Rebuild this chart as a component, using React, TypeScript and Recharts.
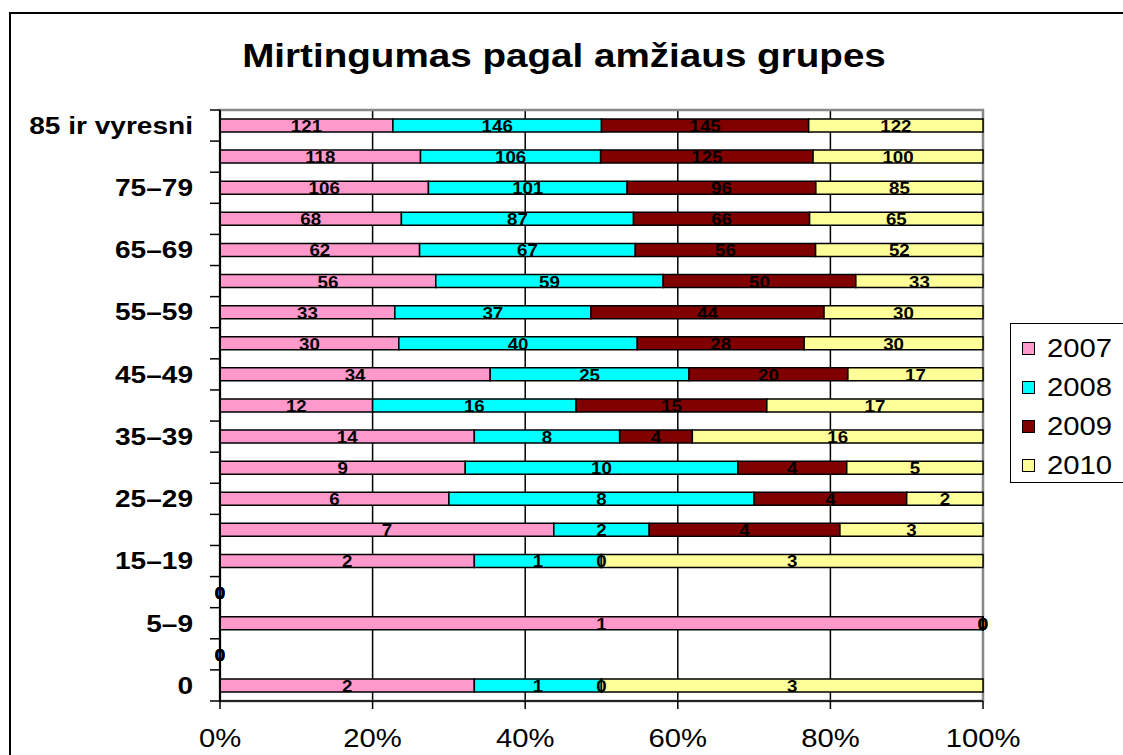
import { Bar, BarChart, CartesianGrid, LabelList, ReferenceArea, XAxis, YAxis } from "recharts";

const CATS = [
  "85 ir vyresni", "80–84", "75–79", "70–74", "65–69", "60–64", "55–59", "50–54", "45–49", "40–44",
  "35–39", "30–34", "25–29", "20–24", "15–19", "10–14", "5–9", "1–4", "0",
];
const Y2007 = [121, 118, 106, 68, 62, 56, 33, 30, 34, 12, 14, 9, 6, 7, 2, 0, 1, 0, 2];
const Y2008 = [146, 106, 101, 87, 67, 59, 37, 40, 25, 16, 8, 10, 8, 2, 1, 0, 0, 0, 1];
const Y2009 = [145, 125, 96, 66, 56, 50, 44, 28, 20, 15, 4, 4, 4, 4, 0, 0, 0, 0, 0];
const Y2010 = [122, 100, 85, 65, 52, 33, 30, 30, 17, 17, 16, 5, 2, 3, 3, 0, 0, 0, 3];
const X_TICKS = [0, 0.2, 0.4, 0.6, 0.8, 1];

const SERIES = [
  { key: "y2007", name: "2007", color: "#ff99cc" },
  { key: "y2008", name: "2008", color: "#00ffff" },
  { key: "y2009", name: "2009", color: "#800000" },
  { key: "y2010", name: "2010", color: "#ffff99" },
];

const data = CATS.map((cat, i) => ({
  cat,
  y2007: Y2007[i],
  y2008: Y2008[i],
  y2009: Y2009[i],
  y2010: Y2010[i],
}));

const W = 1123;
const H = 755;
const M = { top: 110, right: 140, bottom: 14, left: 0 };
const X_AXIS_H = 40;
const PLOT_H = H - M.top - M.bottom - X_AXIS_H;
const BAND = PLOT_H / CATS.length;
const FONT = "'Liberation Sans', Arial, sans-serif";
const SX = 1.17; // text in the original is stretched sideways

function YTick(props: any) {
  const { x, y, payload, index } = props;
  return (
    <g>
      <line x1={x - 10} x2={x} y1={y - BAND / 2} y2={y - BAND / 2} stroke="#000" strokeWidth={1.5} />
      {index === CATS.length - 1 && (
        <line x1={x - 10} x2={x} y1={y + BAND / 2} y2={y + BAND / 2} stroke="#000" strokeWidth={1.5} />
      )}
      {index % 2 === 0 && (
        <text
          transform={`translate(${x - 27},${y}) scale(${SX},1)`}
          textAnchor="end"
          dominantBaseline="central"
          fontFamily={FONT}
          fontWeight="bold"
          fontSize={24}
          fill="#000"
        >
          {payload.value}
        </text>
      )}
    </g>
  );
}

function XTick(props: any) {
  const { x, y, payload } = props;
  return (
    <text
      transform={`translate(${x},${y}) scale(${SX},1)`}
      textAnchor="middle"
      dy="0.71em"
      fontFamily={FONT}
      fontSize={25}
      fill="#000"
    >
      {`${Math.round(payload.value * 100)}%`}
    </text>
  );
}

function SegLabel(props: any) {
  const { x, y, width, height, value } = props;
  return (
    <text
      transform={`translate(${x + width / 2},${y + height / 2 + 1}) scale(${SX},1)`}
      textAnchor="middle"
      dominantBaseline="central"
      fontFamily={FONT}
      fontWeight="bold"
      fontSize={16}
      fill="#000"
    >
      {value}
    </text>
  );
}

function LegendBox() {
  return (
    <div
      style={{
        position: "absolute",
        left: 1010,
        top: 323,
        width: 140,
        height: 158,
        border: "1.5px solid #000",
        background: "#fff",
        fontFamily: FONT,
      }}
    >
      {SERIES.map((s, i) => (
        <div
          key={s.key}
          style={{
            position: "absolute",
            left: 11,
            top: 8 + i * 39,
            height: 32,
            display: "flex",
            alignItems: "center",
          }}
        >
          <div style={{ width: 11, height: 11, background: s.color, border: "1.5px solid #000" }} />
          <span
            style={{
              marginLeft: 12,
              fontSize: 25,
              color: "#000",
              display: "inline-block",
              transform: `scaleX(${SX})`,
              transformOrigin: "left center",
            }}
          >
            {s.name}
          </span>
        </div>
      ))}
    </div>
  );
}

export default function App() {
  return (
    <div style={{ position: "fixed", inset: 0, overflow: "hidden", background: "#fff" }}>
      <div
        style={{
          position: "absolute",
          left: 9,
          top: 12,
          width: 1140,
          height: 770,
          border: "2px solid #000",
        }}
      />
      <div
        style={{
          position: "absolute",
          left: 0,
          width: 1128,
          top: 39,
          textAlign: "center",
          fontFamily: FONT,
          fontWeight: "bold",
          fontSize: 33,
          lineHeight: "33px",
          color: "#000",
          transform: `scaleX(${SX})`,
          transformOrigin: "564px center",
        }}
      >
        Mirtingumas pagal amžiaus grupes
      </div>
      <div style={{ position: "absolute", left: 0, top: 0 }}>
        <BarChart
          width={W}
          height={H}
          data={data}
          layout="vertical"
          stackOffset="expand"
          margin={M}
        >
          <CartesianGrid vertical horizontal={false} stroke="#000" strokeWidth={1.5} />
          <ReferenceArea x1={0} x2={1} fill="none" stroke="#888" strokeWidth={2.5} ifOverflow="visible" />
          <XAxis
            type="number"
            domain={[0, 1]}
            ticks={X_TICKS}
            height={X_AXIS_H}
            tick={<XTick />}
            axisLine={{ stroke: "#000", strokeWidth: 1.5 }}
            tickLine={{ stroke: "#000", strokeWidth: 1.5 }}
            tickSize={8}
            tickMargin={20}
          />
          <YAxis
            type="category"
            dataKey="cat"
            width={220}
            interval={0}
            tick={<YTick />}
            tickLine={false}
            tickSize={0}
            tickMargin={0}
            axisLine={{ stroke: "#000", strokeWidth: 2 }}
          />
          {SERIES.map((s) => (
            <Bar
              key={s.key}
              dataKey={s.key}
              name={s.name}
              stackId="a"
              fill={s.color}
              stroke="#000"
              strokeWidth={1.5}
              barSize={13}
              minPointSize={0.01}
              isAnimationActive={false}
            >
              <LabelList dataKey={s.key} content={<SegLabel />} />
            </Bar>
          ))}
        </BarChart>
      </div>
      <LegendBox />
    </div>
  );
}
